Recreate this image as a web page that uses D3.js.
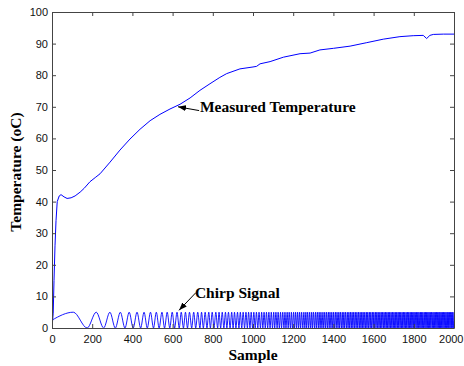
<!DOCTYPE html>
<html>
<head>
<meta charset="utf-8">
<script src="https://cdn.jsdelivr.net/npm/d3@7"></script>
<style>
  body { margin: 0; background: #fff; }
</style>
</head>
<body>
<div id="chart"></div>
<script>
// axis ticks
const xTicks = [0, 200, 400, 600, 800, 1000, 1200, 1400, 1600, 1800, 2000];
const yTicks = [0, 10, 20, 30, 40, 50, 60, 70, 80, 90, 100];

// measured temperature
const tempSample = [0, 6, 10, 15, 20, 26, 36, 45, 60, 75, 95, 115, 140, 160, 189, 215, 239, 289, 338, 388,
  438, 488, 537, 587, 637, 687, 736, 786, 835, 869, 935, 1000, 1018, 1035, 1085, 1151, 1234, 1284, 1333, 1400,
  1483, 1566, 1648, 1731, 1797, 1847, 1864, 1880, 1897, 1947, 2000];
const tempValue = [0, 4.7, 15, 26, 34, 40, 41.8, 42.2, 41.5, 41, 41.2, 41.8, 43, 44.2, 46.3, 47.6, 48.8, 52.5, 56.3, 59.8,
  62.9, 65.6, 67.6, 69.3, 70.8, 72.8, 75.2, 77.3, 79.3, 80.5, 82, 82.6, 82.8, 83.6, 84.3, 85.7, 86.8, 87, 88, 88.5,
  89.2, 90.3, 91.4, 92.2, 92.5, 92.6, 91.6, 92.6, 92.9, 93, 93];

// chirp signal: starts at 2.5, then alternating peaks (5) and troughs (0) at these samples
const chirpStart = 2.5;
const chirpHigh = 5;
const chirpLow = 0;
const chirpExtrema = [106, 175, 220, 257, 288, 315, 340, 363, 384, 404, 423, 441, 458, 474, 490, 505, 519, 533, 547, 560,
  573, 586, 598, 610, 622,
  633, 643, 654, 664, 674, 684, 695, 705, 715, 725,
  736, 744, 753, 762, 771, 780, 788, 797, 806, 815,
  824, 831, 839, 847, 855, 863, 870, 878, 886, 894,
  901, 908, 915, 923, 930, 937, 944, 951, 958, 965,
  972, 978, 985, 991, 998, 1004, 1011, 1017, 1024, 1030,
  1037, 1043, 1049, 1055, 1061, 1067, 1073, 1079, 1085, 1091,
  1097, 1103, 1108, 1114, 1120, 1125, 1131, 1137, 1142, 1148,
  1154, 1159, 1164, 1170, 1175, 1180, 1186, 1191, 1196, 1202,
  1207, 1212, 1217, 1222, 1227, 1232, 1237, 1242, 1248, 1253,
  1258, 1263, 1267, 1272, 1277, 1282, 1287, 1292, 1296, 1301,
  1306, 1311, 1315, 1320, 1325, 1329, 1334, 1338, 1343, 1348,
  1352, 1357, 1361, 1366, 1370, 1375, 1379, 1383, 1388, 1392,
  1397, 1401, 1405, 1410, 1414, 1418, 1423, 1427, 1431, 1435,
  1440, 1444, 1448, 1452, 1456, 1460, 1465, 1469, 1473, 1477,
  1481, 1485, 1489, 1493, 1497, 1501, 1505, 1509, 1513, 1517,
  1521, 1525, 1529, 1533, 1537, 1541, 1544, 1548, 1552, 1556,
  1560, 1564, 1567, 1571, 1575, 1579, 1583, 1586, 1590, 1594,
  1598, 1601, 1605, 1609, 1612, 1616, 1620, 1623, 1627, 1631,
  1634, 1638, 1641, 1645, 1649, 1652, 1656, 1659, 1663, 1666,
  1670, 1673, 1677, 1680, 1684, 1687, 1691, 1694, 1698, 1701,
  1705, 1708, 1711, 1715, 1718, 1722, 1725, 1728, 1732, 1735,
  1739, 1742, 1745, 1749, 1752, 1755, 1759, 1762, 1765, 1769,
  1772, 1775, 1778, 1782, 1785, 1788, 1791, 1795, 1798, 1801,
  1804, 1807, 1811, 1814, 1817, 1820, 1823, 1826, 1830, 1833,
  1836, 1839, 1842, 1845, 1848, 1852, 1855, 1858, 1861, 1864,
  1867, 1870, 1873, 1876, 1879, 1882, 1885, 1888, 1892, 1895,
  1898, 1901, 1904, 1907, 1910, 1913, 1916, 1919, 1922, 1925,
  1928, 1930, 1933, 1936, 1939, 1942, 1945, 1948, 1951, 1954,
  1957, 1960, 1963, 1966, 1969, 1971, 1974, 1977, 1980, 1983,
  1986, 1989, 1991, 1994, 1997, 2000];

// annotation labels (text anchor, arrow tail and tip in data units)
const annotations = [
  { text: "Measured Temperature", at: [736, 68.5], from: [732, 68.8], to: [627, 70.0] },
  { text: "Chirp Signal", at: [711, 9.5], from: [716, 11.2], to: [632, 5.6] }
];

const width = 464, height = 366;
const margin = { top: 12, right: 10, bottom: 38, left: 52 };
const serif = "'Liberation Serif', 'Times New Roman', serif";
const sans = "'Liberation Sans', Arial, sans-serif";
const axisColor = "#444";

const svg = d3.select("#chart").append("svg")
  .attr("width", width)
  .attr("height", height);

const x = d3.scaleLinear().domain([0, 2000]).range([margin.left, width - margin.right]);
const y = d3.scaleLinear().domain([0, 100]).range([height - margin.bottom, margin.top]);

svg.append("defs").append("clipPath").attr("id", "plot")
  .append("rect")
  .attr("x", margin.left).attr("y", margin.top)
  .attr("width", x.range()[1] - margin.left)
  .attr("height", y.range()[0] - margin.top);

const marker = svg.select("defs").append("marker")
  .attr("id", "arrow")
  .attr("markerUnits", "userSpaceOnUse")
  .attr("markerWidth", 8).attr("markerHeight", 6)
  .attr("refX", 8).attr("refY", 3)
  .attr("orient", "auto");
marker.append("path").attr("d", "M0,0 L8,3 L0,6 Z").attr("fill", "#000");

// lines
const tempData = tempSample.map((s, i) => [s, tempValue[i]]);
const chirpData = [[0, chirpStart]].concat(chirpExtrema.map((s, i) => [s, i % 2 === 0 ? chirpHigh : chirpLow]));

const lines = svg.append("g").attr("clip-path", "url(#plot)");
lines.append("path")
  .datum(chirpData)
  .attr("fill", "none")
  .attr("stroke", "#0000ff")
  .attr("stroke-width", 0.9)
  .attr("d", d3.line().x(d => x(d[0])).y(d => y(d[1])).curve(d3.curveMonotoneX));
lines.append("path")
  .datum(tempData)
  .attr("fill", "none")
  .attr("stroke", "#0000ff")
  .attr("stroke-width", 1)
  .attr("d", d3.line().x(d => x(d[0])).y(d => y(d[1])));

// axes (ticks pointing inward, box all round)
function styleAxis(g) {
  g.select(".domain").attr("stroke", axisColor);
  g.selectAll(".tick line").attr("stroke", axisColor);
  g.selectAll(".tick text").attr("fill", "#111").style("font-family", sans).style("font-size", "11px");
}

const xAxis = svg.append("g")
  .attr("transform", `translate(0,${y(0)})`)
  .call(d3.axisBottom(x).tickValues(xTicks).tickSizeInner(-4).tickSizeOuter(0).tickPadding(7).tickFormat(d3.format("d")))
  .call(styleAxis);
// last label sits at the right edge of the page; keep it inside
xAxis.selectAll(".tick text").filter(d => d === 2000)
  .attr("text-anchor", "end")
  .attr("x", width - x(2000) - 1);
svg.append("g")
  .attr("transform", `translate(0,${y(100)})`)
  .call(d3.axisTop(x).tickValues(xTicks).tickSizeInner(-4).tickSizeOuter(0).tickFormat(() => ""))
  .call(styleAxis);
svg.append("g")
  .attr("transform", `translate(${x(0)},0)`)
  .call(d3.axisLeft(y).tickValues(yTicks).tickSizeInner(-4).tickSizeOuter(0).tickPadding(4))
  .call(styleAxis);
svg.append("g")
  .attr("transform", `translate(${x(2000)},0)`)
  .call(d3.axisRight(y).tickValues(yTicks).tickSizeInner(-4).tickSizeOuter(0).tickFormat(() => ""))
  .call(styleAxis);

// axis titles
svg.append("text")
  .attr("x", (x(0) + x(2000)) / 2)
  .attr("y", 360)
  .attr("text-anchor", "middle")
  .style("font-family", serif).style("font-size", "15.5px").style("font-weight", "bold")
  .text("Sample");
svg.append("text")
  .attr("transform", `translate(20.5,${(y(0) + y(100)) / 2 + 2}) rotate(-90)`)
  .attr("text-anchor", "middle")
  .style("font-family", serif).style("font-size", "15.5px").style("font-weight", "bold")
  .text("Temperature (oC)");

// annotations
annotations.forEach(a => {
  svg.append("line")
    .attr("x1", x(a.from[0])).attr("y1", y(a.from[1]))
    .attr("x2", x(a.to[0])).attr("y2", y(a.to[1]))
    .attr("stroke", "#000").attr("stroke-width", 1)
    .attr("marker-end", "url(#arrow)");
  svg.append("text")
    .attr("x", x(a.at[0])).attr("y", y(a.at[1]))
    .style("font-family", serif).style("font-size", "15.5px").style("font-weight", "bold")
    .text(a.text);
});
</script>
</body>
</html>
